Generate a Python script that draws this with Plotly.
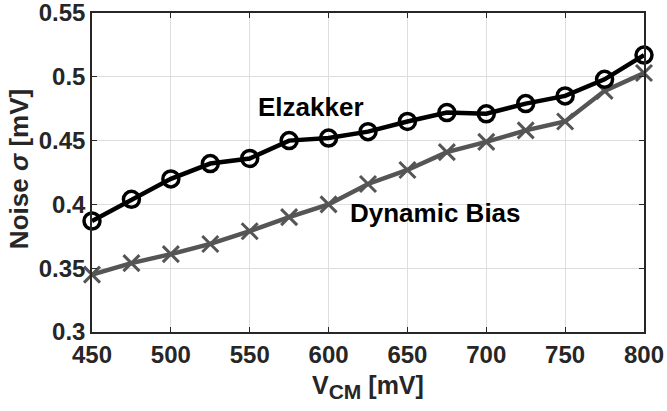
import plotly.graph_objects as go

vcm = [450, 475, 500, 525, 550, 575, 600, 625, 650, 675, 700, 725, 750, 775, 800]
elzakker = [0.387, 0.404, 0.420, 0.432, 0.436, 0.450, 0.452, 0.457, 0.465, 0.472, 0.471, 0.479, 0.485, 0.498, 0.517]
dynamic_bias = [0.345, 0.354, 0.361, 0.369, 0.379, 0.390, 0.400, 0.416, 0.427, 0.441, 0.449, 0.458, 0.465, 0.489, 0.503]
x_ticks = [450, 500, 550, 600, 650, 700, 750, 800]
y_ticks = [0.3, 0.35, 0.4, 0.45, 0.5, 0.55]
y_labels = ["0.3", "0.35", "0.4", "0.45", "0.5", "0.55"]

FONT = "Arial, Liberation Sans, sans-serif"
TXT = "#262626"

fig = go.Figure()
fig.add_trace(go.Scatter(
    x=vcm, y=dynamic_bias, mode="lines+markers", name="Dynamic Bias",
    line=dict(color="#555555", width=4.5),
    marker=dict(symbol="x-thin", size=16, line=dict(color="#555555", width=3)),
    cliponaxis=False,
))
fig.add_trace(go.Scatter(
    x=vcm, y=elzakker, mode="lines+markers", name="Elzakker",
    line=dict(color="#000000", width=4.5),
    marker=dict(symbol="circle-open", size=16, color="#000000", line=dict(color="#000000", width=3.5)),
    cliponaxis=False,
))

axis_common = dict(
    showgrid=True, gridcolor="#dedede", gridwidth=1,
    showline=True, linecolor=TXT, linewidth=1.5, mirror="ticks",
    ticks="inside", ticklen=5, tickwidth=1.2, tickcolor=TXT,
    zeroline=False, automargin=False, ticklabeloverflow="allow",
    tickfont=dict(family=FONT, size=24, color=TXT, weight="bold"),
)

fig.update_xaxes(range=[450, 800], tickvals=x_ticks, **axis_common)
fig.update_yaxes(range=[0.3, 0.55], tickvals=y_ticks, ticktext=y_labels, **axis_common)

fig.add_annotation(x=589, y=0.476, xref="x", yref="y", text="Elzakker", showarrow=False,
                   font=dict(family=FONT, size=26, color="#000000", weight="bold"),
                   xanchor="center", yanchor="middle")
fig.add_annotation(x=668, y=0.393, xref="x", yref="y", text="Dynamic Bias", showarrow=False,
                   font=dict(family=FONT, size=26, color="#000000", weight="bold"),
                   xanchor="center", yanchor="middle")

fig.add_annotation(x=0.5, y=-0.172, xref="paper", yref="paper",
                   text="V<sub><span style='font-size:21px'>CM</span></sub> [mV]", showarrow=False,
                   font=dict(family=FONT, size=25, color=TXT, weight="bold"),
                   xanchor="center", yanchor="middle")
fig.add_annotation(x=-0.132, y=0.511, xref="paper", yref="paper",
                   text="Noise <i>σ</i> [mV]", showarrow=False, textangle=-90,
                   font=dict(family=FONT, size=26, color=TXT, weight="bold"),
                   xanchor="center", yanchor="middle")

fig.update_layout(
    width=667, height=411,
    margin=dict(l=92, r=23, t=13, b=79, autoexpand=False),
    paper_bgcolor="white", plot_bgcolor="white",
    showlegend=False,
)

fig.write_html("out.html", config={"displayModeBar": False},
               post_script="document.body.style.margin='0px';")
